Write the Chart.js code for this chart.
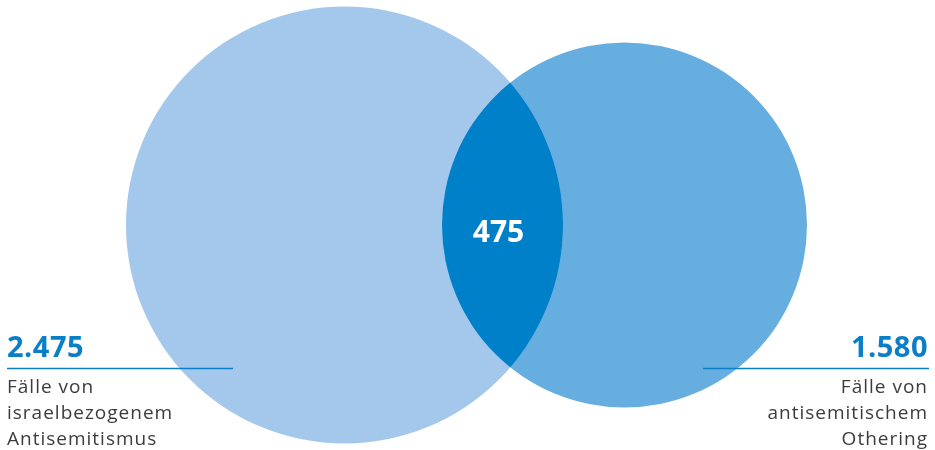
<!DOCTYPE html>
<html>
<head>
<meta charset="utf-8">
<script src="https://cdn.jsdelivr.net/npm/chart.js@4.4.1/dist/chart.umd.min.js"></script>
<style>
  html, body { margin: 0; padding: 0; background: #fff; }
  #wrap { position: relative; width: 935px; height: 450px; }
</style>
</head>
<body>
<div id="wrap"><canvas id="venn"></canvas></div>
<script>
// Data
const categories = ['israelbezogener Antisemitismus', 'antisemitisches Othering'];
const totals = [2475, 1580];
const overlap = 475;
const totalLabels = ['2.475', '1.580'];
const overlapLabel = '475';
const labelLines = [
    ['Fälle von', 'israelbezogenem', 'Antisemitismus'],
    ['Fälle von', 'antisemitischem', 'Othering']
];

// Layout (pixel units, axes run 0..935 and 0..450)
const circleLayout = [
    { x: 344.5, y: 225, r: 218.5 },
    { x: 624.5, y: 225, r: 182.5 }
];
const colors = ['#A3C8EC', '#67AEE0'];
const overlapColor = '#0080C9';
const accent = '#0A7FC8';
const textColor = '#3C3C3C';
const font = '"Open Sans", "Noto Sans", sans-serif';

// Draws the overlap lens and the labels
const vennPlugin = {
    id: 'venn',
    afterDatasetsDraw(chart) {
        const ctx = chart.ctx;
        const a = chart.getDatasetMeta(0).data[0];
        const b = chart.getDatasetMeta(1).data[0];
        const ra = a.options.radius, rb = b.options.radius;

        // overlap region
        ctx.save();
        ctx.beginPath();
        ctx.arc(a.x, a.y, ra, 0, Math.PI * 2);
        ctx.clip();
        ctx.beginPath();
        ctx.arc(b.x, b.y, rb, 0, Math.PI * 2);
        ctx.fillStyle = overlapColor;
        ctx.fill();
        ctx.restore();

        // overlap value
        const lensLeft = b.x - rb, lensRight = a.x + ra;
        ctx.save();
        ctx.fillStyle = '#fff';
        ctx.font = 'bold 30px ' + font;
        ctx.textAlign = 'center';
        ctx.textBaseline = 'alphabetic';
        ctx.fillText(overlapLabel, (lensLeft + lensRight) / 2 - 4, a.y + 17);
        ctx.restore();

        // side labels
        const sides = [
            { align: 'left', x: 7, lineFrom: 7, lineTo: 233 },
            { align: 'right', x: 928, lineFrom: 703, lineTo: 929 }
        ];
        sides.forEach((s, i) => {
            ctx.save();
            ctx.textAlign = s.align;
            ctx.fillStyle = accent;
            ctx.font = 'bold 29px ' + font;
            if ('letterSpacing' in ctx) ctx.letterSpacing = '0.5px';
            ctx.fillText(totalLabels[i], s.x, 357);
            ctx.strokeStyle = accent;
            ctx.lineWidth = 1.5;
            ctx.beginPath();
            ctx.moveTo(s.lineFrom, 368.5);
            ctx.lineTo(s.lineTo, 368.5);
            ctx.stroke();
            ctx.fillStyle = textColor;
            ctx.font = '19px ' + font;
            if ('letterSpacing' in ctx) ctx.letterSpacing = '1px';
            labelLines[i].forEach((line, j) => {
                ctx.fillText(line, s.x, 393 + j * 26);
            });
            ctx.restore();
        });
    }
};

new Chart(document.getElementById('venn'), {
    type: 'bubble',
    data: {
        datasets: categories.map((name, i) => ({
            label: name,
            data: [{ x: circleLayout[i].x, y: circleLayout[i].y, r: circleLayout[i].r, value: totals[i] }],
            backgroundColor: colors[i],
            borderWidth: 0,
            hoverRadius: 0,
            clip: false
        }))
    },
    options: {
        responsive: true,
        maintainAspectRatio: false,
        animation: false,
        events: [],
        layout: { padding: 0, autoPadding: false },
        plugins: {
            legend: { display: false },
            tooltip: { enabled: false }
        },
        scales: {
            x: { type: 'linear', min: 0, max: 935, display: false },
            y: { type: 'linear', min: 0, max: 450, reverse: true, display: false }
        }
    },
    plugins: [vennPlugin]
});
</script>
</body>
</html>
